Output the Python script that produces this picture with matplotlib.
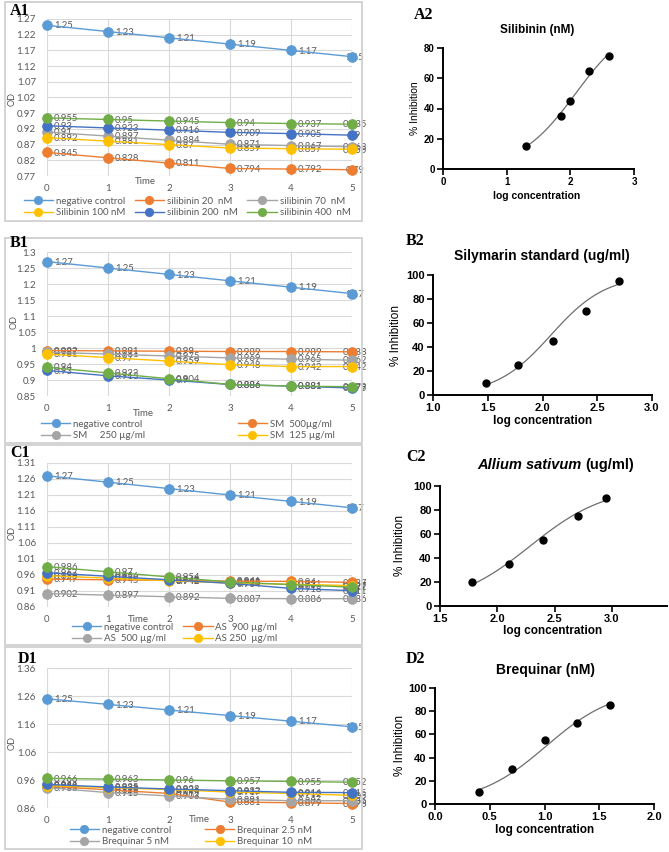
import numpy as np
import matplotlib
matplotlib.use("Agg")
import matplotlib.pyplot as plt
from matplotlib.patches import Rectangle

W, H = 669, 852

# ---- OD time-course data (left column) ----
time = [0, 1, 2, 3, 4, 5]

a1_names = ["negative control", "silibinin 20  nM", "silibinin 70  nM",
            "Silibinin 100 nM", "silibinin 200  nM", "silibinin 400  nM"]
a1_neg = [1.25, 1.23, 1.21, 1.19, 1.17, 1.15]
a1_s20 = [0.845, 0.828, 0.811, 0.794, 0.792, 0.79]
a1_s70 = [0.91, 0.897, 0.884, 0.871, 0.867, 0.863]
a1_s100 = [0.892, 0.881, 0.87, 0.859, 0.857, 0.855]
a1_s200 = [0.93, 0.923, 0.916, 0.909, 0.905, 0.9]
a1_s400 = [0.955, 0.95, 0.945, 0.94, 0.937, 0.935]

b1_names = ["negative control", "SM  500µg/ml", "SM     250 µg/ml", "SM  125 µg/ml",
            "_b5", "_b6"]
b1_neg = [1.27, 1.25, 1.23, 1.21, 1.19, 1.17]
b1_sm500 = [0.992, 0.991, 0.99, 0.989, 0.989, 0.988]
b1_sm250 = [0.987, 0.981, 0.975, 0.969, 0.965, 0.962]
b1_sm125 = [0.981, 0.97, 0.959, 0.948, 0.942, 0.942]
b1_s5 = [0.93, 0.913, 0.9, 0.886, 0.881, 0.875]
b1_s6 = [0.94, 0.922, 0.904, 0.886, 0.881, 0.879]

c1_names = ["negative control", "AS  900 µg/ml", "AS  500 µg/ml", "AS 250  µg/ml",
            "_c5", "_c6"]
c1_neg = [1.27, 1.25, 1.23, 1.21, 1.19, 1.17]
c1_as900 = [0.947, 0.945, 0.943, 0.941, 0.94, 0.937]
c1_as500 = [0.902, 0.897, 0.892, 0.887, 0.886, 0.886]
c1_as250 = [0.958, 0.95, 0.942, 0.935, 0.931, 0.927]
c1_s5 = [0.967, 0.956, 0.945, 0.934, 0.918, 0.911]
c1_s6 = [0.986, 0.97, 0.954, 0.938, 0.93, 0.922]

d1_names = ["negative control", "Brequinar 2.5 nM", "Brequinar 5 nM", "Brequinar 10  nM",
            "_d5", "_d6"]
d1_neg = [1.25, 1.23, 1.21, 1.19, 1.17, 1.15]
d1_b25 = [0.938, 0.925, 0.912, 0.881, 0.879, 0.876]
d1_b5 = [0.933, 0.915, 0.903, 0.891, 0.886, 0.886]
d1_b10 = [0.94, 0.933, 0.926, 0.917, 0.912, 0.905]
d1_s5 = [0.944, 0.935, 0.928, 0.922, 0.916, 0.915]
d1_s6 = [0.966, 0.963, 0.96, 0.957, 0.955, 0.952]

# ---- dose-response data (right column) ----
a2_logc = [1.3, 1.85, 2.0, 2.3, 2.6]
a2_inh = [15, 35, 45, 65, 75]
b2_logc = [1.48, 1.78, 2.1, 2.4, 2.7]
b2_inh = [10, 25, 45, 70, 95]
c2_logc = [1.78, 2.1, 2.4, 2.7, 2.95]
c2_inh = [20, 35, 55, 75, 90]
d2_logc = [0.4, 0.7, 1.0, 1.3, 1.6]
d2_inh = [10, 30, 55, 70, 85]

colors = ["#5B9BD5", "#ED7D31", "#A5A5A5", "#FFC000", "#4472C4", "#70AD47"]
grey_txt = "#595959"

fig = plt.figure(figsize=(W / 100, H / 100), dpi=100)


def px_axes(l, t, r, b):
    return fig.add_axes([l / W, 1 - b / H, (r - l) / W, (b - t) / H])


def ftext(x, y, s, **kw):
    fig.text(x / W, 1 - y / H, s, **kw)


def od_panel(tag, box, area, ylim, step, series, names, tag_xy, od_xy, time_xy,
             ypad, leg_xy, colspace, hlen):
    l, t, r, b = box
    fig.patches.append(Rectangle((l / W, 1 - b / H), (r - l) / W, (b - t) / H,
                                 transform=fig.transFigure, fill=False,
                                 edgecolor="#d0d0d0", lw=1.3))
    ax = px_axes(*area)
    handles = []
    for vals, name, col in zip(series, names, colors):
        ln, = ax.plot(time, vals, color=col, lw=1.0, marker="o", ms=7,
                      mec=col, mew=0.6, clip_on=False, label=name, zorder=3)
        if not name.startswith("_"):
            handles.append(ln)
        for i, v in enumerate(vals):
            if i < 5:
                ax.annotate(f"{v:g}", (time[i], v), xytext=(5, -0.5),
                            textcoords="offset points", ha="left", va="center",
                            fontsize=6.8, color=grey_txt, zorder=2,
                            annotation_clip=False, family="Lato")
            else:
                ax.annotate(f"{v:g}", (time[i], v), xytext=(2, -0.5),
                            textcoords="offset points", ha="center", va="center",
                            fontsize=6.8, color=grey_txt, zorder=2,
                            annotation_clip=False, family="Lato")
    ax.set_xlim(0, 5)
    ax.set_ylim(*ylim)
    yt = np.round(np.arange(ylim[0], ylim[1] + step / 2, step), 2)
    ax.set_yticks(yt)
    ax.set_yticklabels([f"{v:g}" for v in yt])
    ax.set_xticks(time)
    ax.grid(color="#d9d9d9", lw=0.8)
    ax.set_axisbelow(True)
    for s in ax.spines.values():
        s.set_visible(False)
    ax.tick_params(length=0, labelsize=7, labelcolor=grey_txt, pad=6)
    ax.tick_params(axis="y", pad=ypad)
    for lab in ax.get_xticklabels() + ax.get_yticklabels():
        lab.set_family("Lato")
    ftext(*tag_xy, tag, fontsize=11.5, fontweight="bold", family="Liberation Serif",
          ha="left", va="center")
    ftext(*od_xy, "OD", fontsize=6.5, color=grey_txt, rotation=90,
          ha="center", va="center", family="Lato")
    ftext(*time_xy, "Time", fontsize=7, color=grey_txt, ha="center", va="center",
          family="Lato")
    # legend filled row-wise like Excel
    ncol = 3 if len(handles) == 6 else 2
    nrow = int(np.ceil(len(handles) / ncol))
    order = [r_ * ncol + c for c in range(ncol) for r_ in range(nrow)
             if r_ * ncol + c < len(handles)]
    hs = [handles[i] for i in order]
    fig.legend(hs, [h.get_label() for h in hs], ncol=ncol, loc="center",
               bbox_to_anchor=(leg_xy[0] / W, 1 - leg_xy[1] / H),
               bbox_transform=fig.transFigure, frameon=False,
               prop={"family": "Lato", "size": 7}, labelcolor=grey_txt,
               handlelength=hlen, handletextpad=0.3, columnspacing=colspace,
               labelspacing=0.25, borderpad=0, markerscale=0.85)
    return ax


od_panel("A1", (5, 2, 362, 221), (47, 19, 352, 176), (0.77, 1.27), 0.05,
         [a1_neg, a1_s20, a1_s70, a1_s100, a1_s200, a1_s400], a1_names,
         (10, 11), (12, 99), (145, 182), 8, (187, 207), 1.0, 3.0)
od_panel("B1", (5, 238, 362, 443), (47, 252, 352, 396), (0.85, 1.30), 0.05,
         [b1_neg, b1_sm500, b1_sm250, b1_sm125, b1_s5, b1_s6], b1_names,
         (10, 243), (14, 322), (143, 413), 8, (188, 430), 9.5, 3.0)
od_panel("C1", (5, 445, 362, 645), (47, 463, 352, 607), (0.86, 1.31), 0.05,
         [c1_neg, c1_as900, c1_as500, c1_as250, c1_s5, c1_s6], c1_names,
         (10, 453), (12, 533), (138, 619), 8, (175, 633), 1.0, 3.0)
od_panel("D1", (5, 647, 362, 849), (47, 668, 352, 808), (0.86, 1.36), 0.10,
         [d1_neg, d1_b25, d1_b5, d1_b10, d1_s5, d1_s6], d1_names,
         (18, 659), (12, 743), (199, 820), 8, (191, 836), 3.5, 3.0)


def logistic_fit(x, y):
    # Hill fit with bottom 0 / top 100 from a linear fit of log10(y/(100-y))
    x = np.asarray(x, float)
    y = np.asarray(y, float)
    k, c = np.polyfit(x, np.log10(y / (100 - y)), 1)
    xx = np.linspace(x.min(), x.max(), 120)
    return xx, 100 / (1 + 10 ** (-(k * xx + c)))


def ic_panel(tag, area, xlim, xticks, xfmt, ylim, yticks, xs, ys, tag_xy,
             title_xy, title, xl_xy, yl_xy, tsize, lsize, italic_title=None):
    ax = px_axes(*area)
    xx, yy = logistic_fit(xs, ys)
    ax.plot(xx, yy, color="#6e6e6e", lw=0.9, zorder=2)
    ax.plot(xs, ys, "o", color="black", ms=5, zorder=3, clip_on=False)
    ax.set_xlim(*xlim)
    ax.set_ylim(*ylim)
    ax.set_xticks(xticks)
    ax.set_xticklabels([xfmt.format(v) for v in xticks])
    ax.set_yticks(yticks)
    for s in ("top", "right"):
        ax.spines[s].set_visible(False)
    for s in ("left", "bottom"):
        ax.spines[s].set_linewidth(1.4)
    ax.tick_params(width=1.2, length=4, labelsize=lsize - 0.5, pad=2)
    for lab in ax.get_xticklabels() + ax.get_yticklabels():
        lab.set_fontweight("bold")
        lab.set_family("Liberation Sans")
    ftext(*tag_xy, tag, fontsize=11.5, fontweight="bold", family="Liberation Serif",
          ha="left", va="center")
    if italic_title:
        ftext(title_xy[0], title_xy[1], italic_title, fontsize=tsize, fontweight="bold",
              style="italic", family="Liberation Sans", ha="right", va="center")
        ftext(title_xy[0] + 3, title_xy[1], title, fontsize=tsize, fontweight="bold",
              family="Liberation Sans", ha="left", va="center")
    else:
        ftext(*title_xy, title, fontsize=tsize, fontweight="bold",
              family="Liberation Sans", ha="center", va="center")
    ftext(*xl_xy, "log concentration", fontsize=lsize, fontweight="bold",
          family="Liberation Sans", ha="center", va="center")
    ftext(*yl_xy, "% Inhibition", fontsize=lsize, family="Liberation Sans",
          rotation=90, ha="center", va="center")
    return ax


ic_panel("A2", (443, 48, 634, 169), (0, 3), [0, 1, 2, 3], "{:g}", (0, 80),
         [0, 20, 40, 60, 80], a2_logc, a2_inh, (414, 15), (537, 30),
         "Silibinin (nM)", (537, 196), (415, 108), 8.5, 7.5)
ic_panel("B2", (433, 275, 652, 395), (1.0, 3.0), [1.0, 1.5, 2.0, 2.5, 3.0], "{:.1f}",
         (0, 100), [0, 20, 40, 60, 80, 100], b2_logc, b2_inh, (406, 241), (542, 256),
         "Silymarin standard (ug/ml)", (543, 421), (396, 335), 10, 8.5)
ic_panel("C2", (440, 486, 667, 606), (1.5, 3.48), [1.5, 2.0, 2.5, 3.0], "{:.1f}",
         (0, 100), [0, 20, 40, 60, 80, 100], c2_logc, c2_inh, (406, 457), (582, 465),
         "(ug/ml)", (553, 631), (400, 546), 10.5, 8.5, italic_title="Allium sativum")
ic_panel("D2", (435, 688, 654, 804), (0.0, 2.0), [0.0, 0.5, 1.0, 1.5, 2.0], "{:.1f}",
         (0, 100), [0, 20, 40, 60, 80, 100], d2_logc, d2_inh, (406, 659), (545, 670),
         "Brequinar (nM)", (545, 830), (400, 746), 10, 8.5)

fig.savefig("out.png", dpi=100)
